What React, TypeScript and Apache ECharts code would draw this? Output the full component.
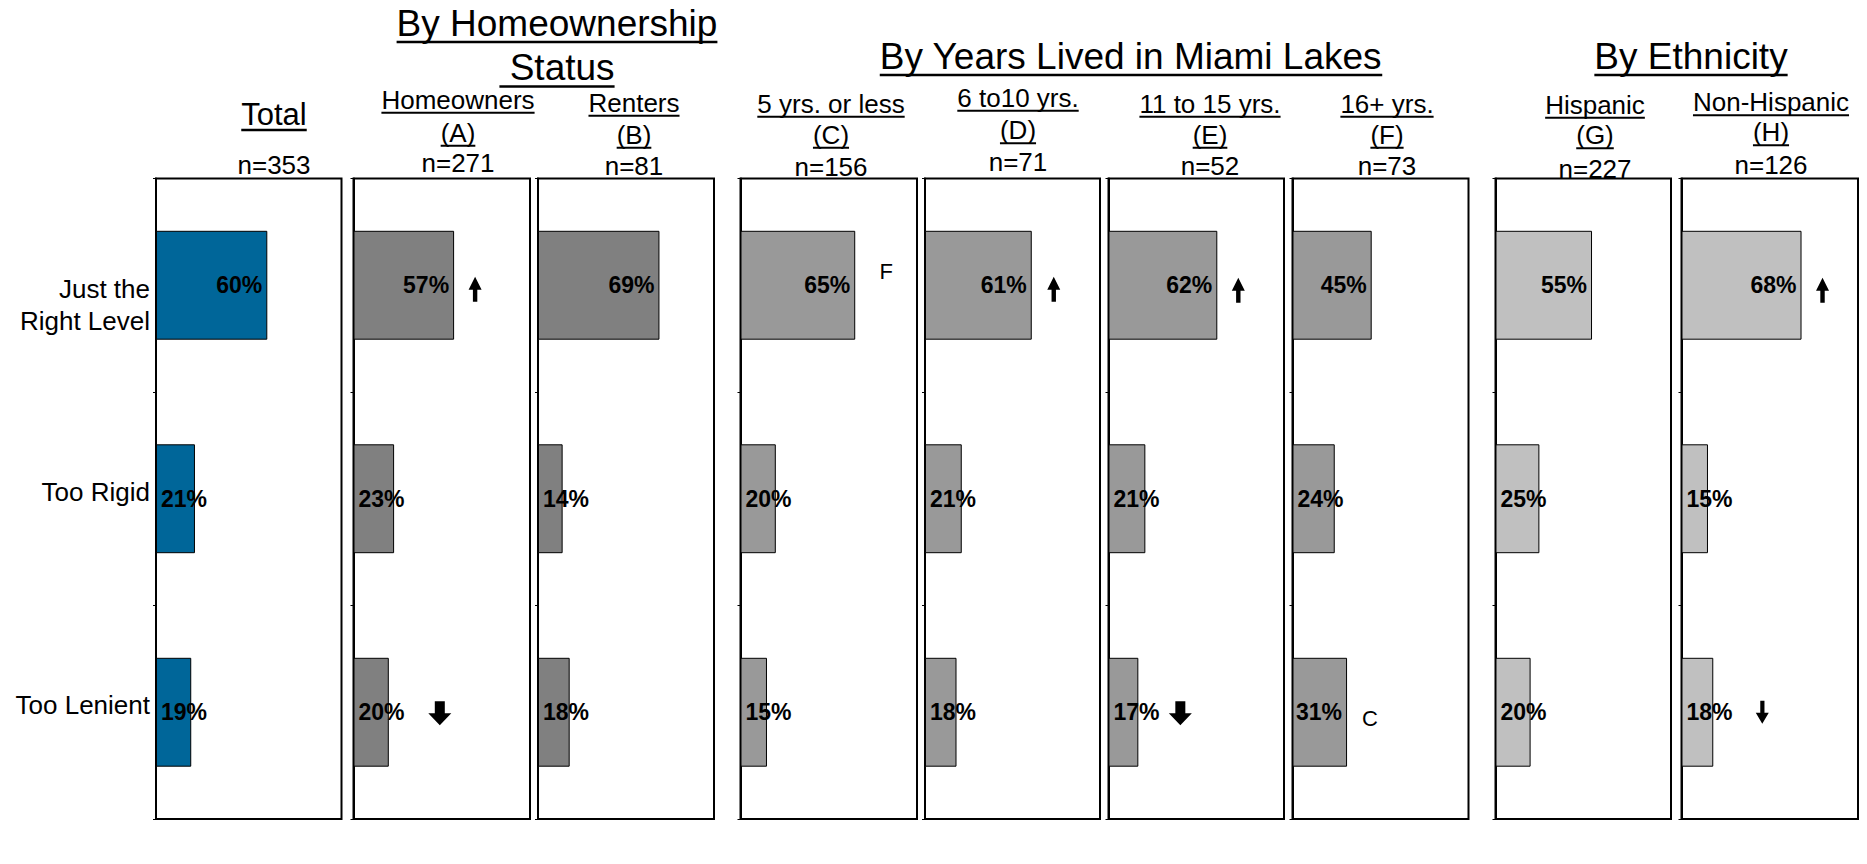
import React, { useEffect, useRef } from 'react';
import * as echarts from 'echarts';

// ---------------- data ----------------
const categories = ['Just the Right Level', 'Too Rigid', 'Too Lenient'];
const categoryLabelLines = [['Just the', 'Right Level'], ['Too Rigid'], ['Too Lenient']];

const groupTitles = ['By Homeownership', 'Status', 'By Years Lived in Miami Lakes', 'By Ethnicity'];

const panelNames = ['Total', 'Homeowners', 'Renters', '5 yrs. or less', '6 to10 yrs.', '11 to 15 yrs.', '16+ yrs.', 'Hispanic', 'Non-Hispanic'];
const panelCodes = ['', '(A)', '(B)', '(C)', '(D)', '(E)', '(F)', '(G)', '(H)'];
const panelSizes = ['n=353', 'n=271', 'n=81', 'n=156', 'n=71', 'n=52', 'n=73', 'n=227', 'n=126'];

const totalValues = [60, 21, 19];
const homeownerValues = [57, 23, 20];
const renterValues = [69, 14, 18];
const yrs5OrLessValues = [65, 20, 15];
const yrs6to10Values = [61, 21, 18];
const yrs11to15Values = [62, 21, 17];
const yrs16PlusValues = [45, 24, 31];
const hispanicValues = [55, 25, 20];
const nonHispanicValues = [68, 15, 18];

const panelValues = [
  totalValues, homeownerValues, renterValues, yrs5OrLessValues, yrs6to10Values,
  yrs11to15Values, yrs16PlusValues, hispanicValues, nonHispanicValues,
];

// significance marks: panel index, category index, marker
const markPanel = [1, 4, 5, 8, 1, 5, 8, 3, 6];
const markCategory = [0, 0, 0, 0, 2, 2, 2, 0, 2];
const markKind = ['up', 'up', 'up', 'up', 'downBold', 'downBold', 'down', 'F', 'C'];

// ---------------- layout / style ----------------
const FONT = '"Liberation Sans", Arial, Helvetica, sans-serif';
const panelColors = ['#006699', '#808080', '#808080', '#999999', '#999999', '#999999', '#999999', '#C0C0C0', '#C0C0C0'];
const gridLeft = [156, 353.5, 538, 740.5, 925, 1108.5, 1292.5, 1495.5, 1681.5];
const gridRight = [341.5, 530, 714, 917, 1100, 1284, 1468.5, 1671, 1858];
const gridTop = 178.5;
const gridBottom = 819;

const headerX = [274, 458, 634, 831, 1018, 1210, 1387, 1595, 1771];
const nameY = [114, 99.5, 102.7, 103.5, 97.5, 103.5, 103.5, 104.5, 102];
const codeY = [0, 132.5, 134.5, 134.5, 130, 134.5, 134.5, 135, 132];
const sizeY = [165, 162.5, 166, 166.5, 162, 165.5, 166, 168.5, 165];

const titleX = [557, 557, 1131, 1691];
const titleY = [23, 67.5, 56, 56];

const markDx = [21, 22, 21, 21, 51, 42, 49, 31, 23];
const markDy = [4, 4, 5, 5, 1, 1, 0, -14, 6];

const SYMBOLS: Record<string, { path: string; size: number[] }> = {
  up: { path: 'path://M6.5,0 L13,13 L8.7,13 L8.7,25 L4.3,25 L4.3,13 L0,13 Z', size: [13, 25] },
  down: { path: 'path://M4.5,0 L8.7,0 L8.7,12 L13,12 L6.5,23 L0,12 L4.5,12 Z', size: [13, 23] },
  downBold: { path: 'path://M6.5,0 L16.5,0 L16.5,12 L23,12 L11.5,24 L0,12 L6.5,12 Z', size: [23, 24] },
};

let measureCtx: CanvasRenderingContext2D | null = null;
function textWidth(text: string, size: number, weight = 'normal') {
  if (!measureCtx) measureCtx = document.createElement('canvas').getContext('2d');
  if (!measureCtx) return text.length * size * 0.55;
  measureCtx.font = `${weight} ${size}px ${FONT}`;
  return measureCtx.measureText(text).width;
}

function headerText(elems: any[], text: string, cx: number, cy: number, size: number, underline: boolean, lead = '') {
  const full = lead + text;
  const w = textWidth(full, size);
  const leadW = lead ? textWidth(lead, size) : 0;
  const left = cx - w / 2;
  elems.push({
    type: 'text',
    x: left + leadW,
    y: cy,
    style: { text, fontSize: size, fontFamily: FONT, fill: '#000', align: 'left', verticalAlign: 'middle' },
  });
  if (underline) {
    const thick = size > 30 ? 2.5 : 2;
    const y = cy + 0.358 * size + (size > 30 ? 0.12 : 0.11) * size;
    elems.push({
      type: 'rect',
      shape: { x: left, y, width: w, height: thick },
      style: { fill: '#000' },
    });
  }
}

export default function App() {
  const ref = useRef<HTMLDivElement>(null);

  useEffect(() => {
    if (!ref.current) return;
    const chart = echarts.init(ref.current, null, { renderer: 'svg' });

    const grids: any[] = [];
    const xAxes: any[] = [];
    const yAxes: any[] = [];
    const series: any[] = [];

    panelValues.forEach((vals, p) => {
      grids.push({
        left: gridLeft[p],
        top: gridTop,
        width: gridRight[p] - gridLeft[p],
        height: gridBottom - gridTop,
        show: true,
        borderColor: '#000',
        borderWidth: 2,
        backgroundColor: 'transparent',
        containLabel: false,
      });
      xAxes.push({ type: 'value', gridIndex: p, min: 0, max: 100, show: false });
      yAxes.push({
        type: 'category',
        gridIndex: p,
        data: categories,
        inverse: true,
        axisLine: { show: true, lineStyle: { color: '#000', width: 2 } },
        axisTick: { show: true, length: 3, lineStyle: { color: '#000', width: 1 } },
        splitLine: { show: false },
        axisLabel: p === 0
          ? {
              show: true,
              margin: 6,
              color: '#000',
              fontFamily: FONT,
              fontSize: 26,
              align: 'right',
              formatter: (_v: string, idx: number) => {
                const lines = categoryLabelLines[idx];
                if (lines.length > 1) return lines.map((l) => `{p|${l}}`).join('\n');
                return `{s|${lines[0]}}`;
              },
              rich: {
                p: { fontSize: 26, fontFamily: FONT, color: '#000', lineHeight: 32, padding: [40, 0, 0, 0] },
                s: { fontSize: 26, fontFamily: FONT, color: '#000', lineHeight: 32, padding: [0, 0, 14, 0] },
              },
            }
          : { show: false },
      });
      series.push({
        type: 'bar',
        xAxisIndex: p,
        yAxisIndex: p,
        barWidth: '51%',
        itemStyle: { color: panelColors[p], borderColor: '#000', borderWidth: 1 },
        data: vals.map((v) => ({
          value: v,
          label: {
            show: true,
            position: v >= 28 ? 'insideRight' : 'insideLeft',
            distance: 5,
            formatter: '{c}%',
            color: '#000',
            fontWeight: 'bold',
            fontSize: 23,
            fontFamily: FONT,
          },
        })),
      });
      // significance markers for this panel
      const arrowData: any[] = [];
      const letterData: any[] = [];
      markPanel.forEach((mp, i) => {
        if (mp !== p) return;
        const c = markCategory[i];
        const kind = markKind[i];
        const sym = SYMBOLS[kind];
        if (sym) {
          arrowData.push({
            value: [vals[c], c],
            symbol: sym.path,
            symbolSize: sym.size,
            symbolOffset: [markDx[i], markDy[i]],
          });
        } else {
          letterData.push({
            value: [vals[c], c],
            label: {
              show: true,
              position: 'inside',
              offset: [markDx[i], markDy[i]],
              formatter: kind,
              color: '#000',
              opacity: 1,
              fontSize: 22,
              fontFamily: FONT,
            },
          });
        }
      });
      if (arrowData.length) {
        series.push({
          type: 'scatter',
          xAxisIndex: p,
          yAxisIndex: p,
          itemStyle: { color: '#000', opacity: 1 },
          silent: true,
          z: 5,
          data: arrowData,
        });
      }
      if (letterData.length) {
        series.push({
          type: 'scatter',
          xAxisIndex: p,
          yAxisIndex: p,
          symbolSize: 1,
          itemStyle: { color: 'rgba(0,0,0,0)', opacity: 1 },
          silent: true,
          z: 5,
          data: letterData,
        });
      }
    });

    const elems: any[] = [];
    // group titles
    headerText(elems, groupTitles[0], titleX[0], titleY[0], 37, true);
    headerText(elems, groupTitles[1], titleX[1], titleY[1], 37, true, ' ');
    headerText(elems, groupTitles[2], titleX[2], titleY[2], 37, true);
    headerText(elems, groupTitles[3], titleX[3], titleY[3], 37, true);
    // panel headers
    panelNames.forEach((name, p) => {
      headerText(elems, name, headerX[p], nameY[p], p === 0 ? 31 : 26, true);
      if (panelCodes[p]) headerText(elems, panelCodes[p], headerX[p], codeY[p], 26, true);
      headerText(elems, panelSizes[p], headerX[p], sizeY[p], 26, false);
    });

    chart.setOption({
      animation: false,
      backgroundColor: '#fff',
      textStyle: { fontFamily: FONT },
      grid: grids,
      xAxis: xAxes,
      yAxis: yAxes,
      series,
      graphic: { elements: elems },
    });

    return () => chart.dispose();
  }, []);

  return (
    <div
      ref={ref}
      style={{ position: 'fixed', left: 0, top: 0, width: 1867, height: 864, background: '#fff' }}
    />
  );
}
